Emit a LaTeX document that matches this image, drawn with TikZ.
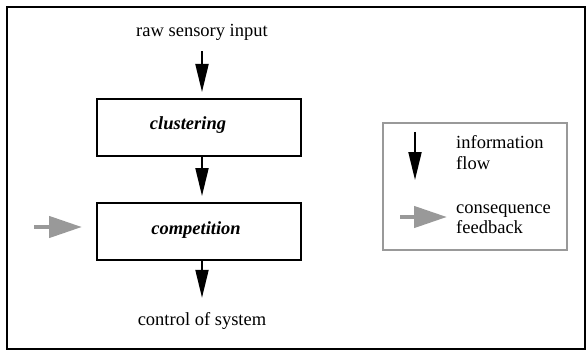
\documentclass[tikz,border=0pt]{standalone}
\usepackage{fontspec}
\setmainfont{Liberation Serif}
\newfontfamily\tnr{Liberation Serif}
\usetikzlibrary{arrows.meta}
\definecolor{fbgray}{RGB}{153,153,153}
\tikzset{
  every node/.style={font=\tnr\fontsize{18.5}{20}\selectfont},
  stagebox/.style={draw=black, line width=2pt, minimum width=204pt, minimum height=57pt, inner sep=0pt},
  flowarrow/.style={draw=black, line width=2pt, -{Triangle[length=28pt,width=13pt]}},
  fbarrow/.style={draw=fbgray, fill=fbgray, line width=4.5pt, -{Triangle[length=33pt,width=21pt]}},
  lbl/.style={anchor=base, inner sep=3pt},
  legtxt/.style={anchor=base west, inner sep=0pt}
}
\begin{document}
\begin{tikzpicture}[x=1pt, y=-1pt]
\useasboundingbox (0,0) rectangle (586,350);
% outer frame
\draw[line width=2pt] (7,7) rectangle (585,349);
% texts
\node[lbl] (raw) at (202,37) {raw sensory input};
\node[stagebox] (clu) at (199,127.5) {};
\node[anchor=base, inner sep=0pt] (clut) at (188,129) {\textbf{\textit{clustering}}};
\node[stagebox] (comp) at (199,231.5) {};
\node[anchor=base, inner sep=0pt] (compt) at (196,234) {\textbf{\textit{competition}}};
\node[lbl] (ctrl) at (202,325) {control of system};
% flow arrows
\draw[flowarrow, shorten <=7pt, shorten >=6pt] (raw.south) -- (raw.south |- clu.north);
\draw[flowarrow, shorten >=6pt] ([xshift=3pt]clu.south) -- ([xshift=3pt]clu.south |- comp.north);
\draw[flowarrow, shorten >=11pt] ([xshift=3pt]comp.south) -- ([xshift=3pt]comp.south |- ctrl.north);
% feedback arrow
\coordinate (fb) at (34,227);
\draw[fbarrow, shorten >=14pt] (fb) -- (fb -| comp.west);
% legend
\node[draw=fbgray, line width=2pt, minimum width=184pt, minimum height=127pt, inner sep=0pt] (leg) at (475,186.5) {};
\coordinate (la1) at (415,132);
\coordinate (la2) at (415,180);
\draw[flowarrow] (la1) -- (la2);
\node[legtxt] (info1) at (456,149) {information};
\node[legtxt] (info2) at (456,169) {flow};
\coordinate (lb1) at (400,217);
\coordinate (lb2) at (447,217);
\draw[fbarrow] (lb1) -- (lb2);
\node[legtxt] (cons1) at (456,213) {consequence};
\node[legtxt] (cons2) at (456,233) {feedback};
\end{tikzpicture}
\end{document}
